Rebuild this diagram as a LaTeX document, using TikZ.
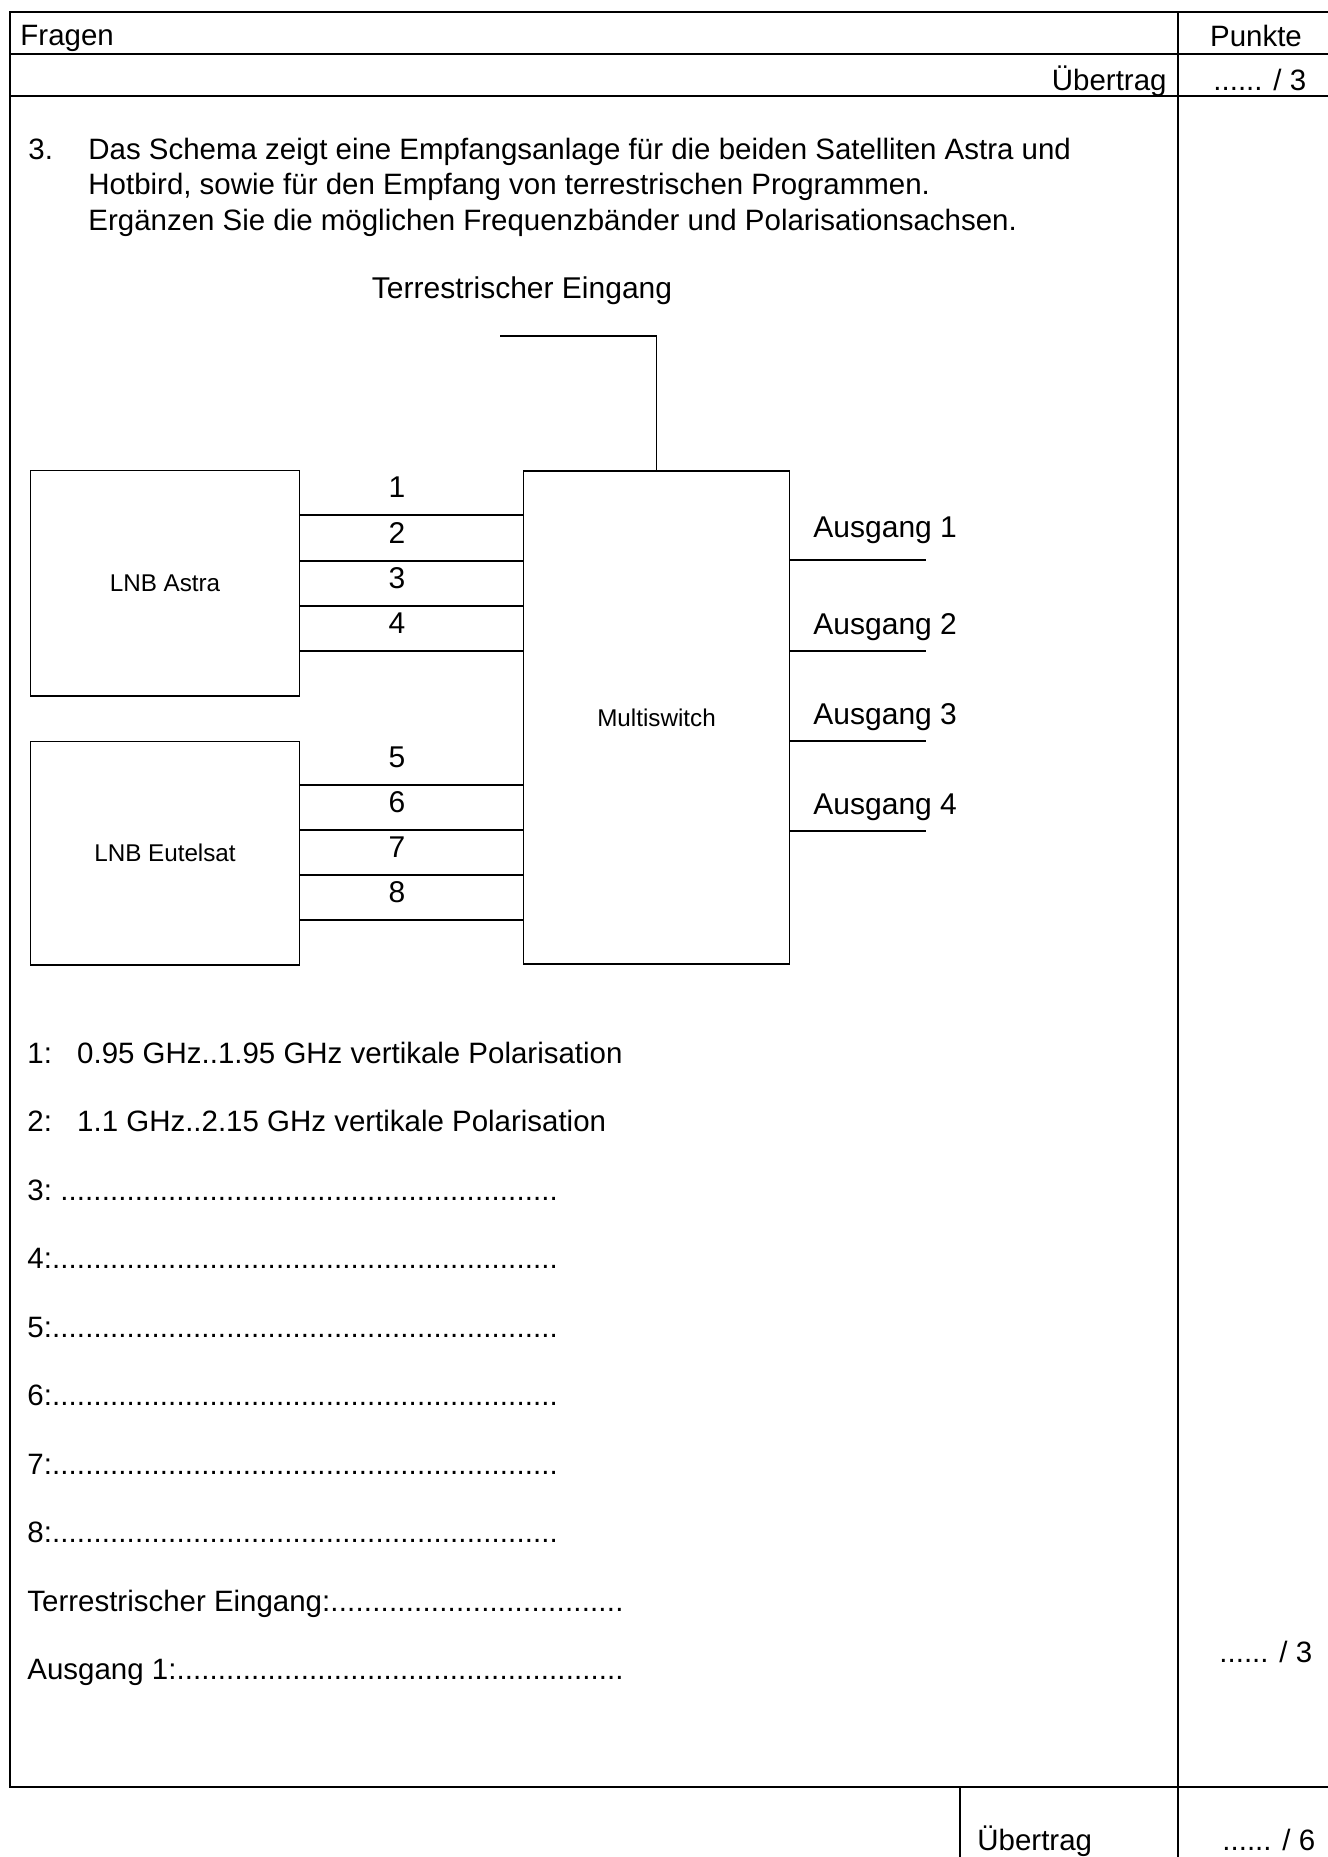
\documentclass[tikz,border=0pt]{standalone}
\usepackage{fontspec}
\setmainfont{Liberation Sans}
\newcommand{\dotrow}[2]{\hbox to #2{#1\xleaders\hbox{.}\hfill}}
\begin{document}
\begin{tikzpicture}[x=0.015813cm,y=-0.015813cm,
  frame/.style={line width=0.8pt},
  wire/.style={line width=0.8pt},
  body/.style={font=\fontsize{13.25}{15.9}\selectfont,inner sep=0pt,anchor=base west},
  lab/.style={font=\fontsize{13.5}{16}\selectfont,inner sep=0pt,anchor=base west},
  num/.style={font=\fontsize{13.5}{16}\selectfont,inner sep=0pt,anchor=base},
  box/.style={draw,line width=0.8pt,inner sep=0pt,font=\fontsize{10.9}{12}\selectfont}]
\useasboundingbox (0,0) rectangle (1328,1857);
% frame
\coordinate (tl) at (10,12);
\coordinate (tr) at (1328,12);
\coordinate (bl) at (10,1787);
\coordinate (br) at (1328,1787);
\coordinate (vt) at (1178,12);
\coordinate (vb) at (1178,1857);
\coordinate (h1l) at (10,54);
\coordinate (h1r) at (1328,54);
\coordinate (h2l) at (10,96);
\coordinate (h2r) at (1328,96);
\coordinate (ut) at (960,1787);
\coordinate (ub) at (960,1857);
\draw[frame] (tr) -- (tl) -- (bl) -- (br);
\draw[frame] (h1l) -- (h1r);
\draw[frame] (h2l) -- (h2r);
\draw[frame] (vt) -- (vb);
\draw[frame] (ut) -- (ub);
% header texts
\node[body] (fragen) at (20,45) {Fragen};
\node[body,anchor=base] (punkte) at (1256,46) {Punkte};
\node[body,anchor=base east] (uebt) at (1167,90) {Übertrag};
\node[body] (p3) at (1213,90) {...... / 3};
% question
\node[body] (q3) at (28,159) {3.};
\node[body] (ql1) at (88,159) {Das Schema zeigt eine Empfangsanlage für die beiden Satelliten Astra und};
\node[body] (ql2) at (88,194) {Hotbird, sowie für den Empfang von terrestrischen Programmen.};
\node[body] (ql3) at (88,230) {Ergänzen Sie die möglichen Frequenzbänder und Polarisationsachsen.};
% diagram
\node[lab,anchor=base] (terr) at (522,298) {Terrestrischer Eingang};
\node[box,minimum width=121.0pt,minimum height=101.3pt] (astra) at (165,583) {LNB Astra};
\node[box,minimum width=121.0pt,minimum height=100.4pt] (eutel) at (165,853) {LNB Eutelsat};
\node[box,minimum width=119.7pt,minimum height=221.9pt] (ms) at (656.5,717.5) {Multiswitch};
\coordinate (tin) at (500,336);
\draw[wire] (tin) -| (ms.north);
% LNB lines
\foreach \y/\n in {515/1,561/2,606/3,651/4}{
  \draw[wire] (astra.east |- 0,\y) -- (ms.west |- 0,\y);
  \node[num] (n\n) at (397,\y-18) {\n};
}
\foreach \y/\n in {785/5,830/6,875/7,920/8}{
  \draw[wire] (eutel.east |- 0,\y) -- (ms.west |- 0,\y);
  \node[num] (n\n) at (397,\y-18) {\n};
}
% outputs
\foreach \y/\b/\n in {560/537/1,651/634/2,741/724/3,831/814/4}{
  \coordinate (o\n) at (926,\y);
  \draw[wire] (ms.east |- o\n) -- (o\n);
  \node[lab] (a\n) at (813,\b) {Ausgang \n};
}
% answers
\node[body] (r1) at (27,1063) {\makebox[22.4pt][l]{1:}0.95 GHz..1.95 GHz vertikale Polarisation};
\node[body] (r2) at (27,1131.5) {\makebox[22.4pt][l]{2:}1.1 GHz..2.15 GHz vertikale Polarisation};
\node[body] (r3) at (27,1200) {\dotrow{3:\ }{238.5pt}};
\node[body] (r4) at (27,1268.5) {\dotrow{4:}{238.5pt}};
\node[body] (r5) at (27,1337) {\dotrow{5:}{238.5pt}};
\node[body] (r6) at (27,1405.5) {\dotrow{6:}{238.5pt}};
\node[body] (r7) at (27,1474) {\dotrow{7:}{238.5pt}};
\node[body] (r8) at (27,1542.5) {\dotrow{8:}{238.5pt}};
\node[body] (rt) at (27,1611) {\dotrow{Terrestrischer Eingang:}{268.1pt}};
\node[body] (ra) at (27,1679.5) {\dotrow{Ausgang 1:}{268.1pt}};
\node[body] (p3b) at (1219,1662) {...... / 3};
% bottom
\node[body] (uebt2) at (977,1850) {Übertrag};
\node[body] (p6) at (1222,1850) {...... / 6};
\end{tikzpicture}
\end{document}
